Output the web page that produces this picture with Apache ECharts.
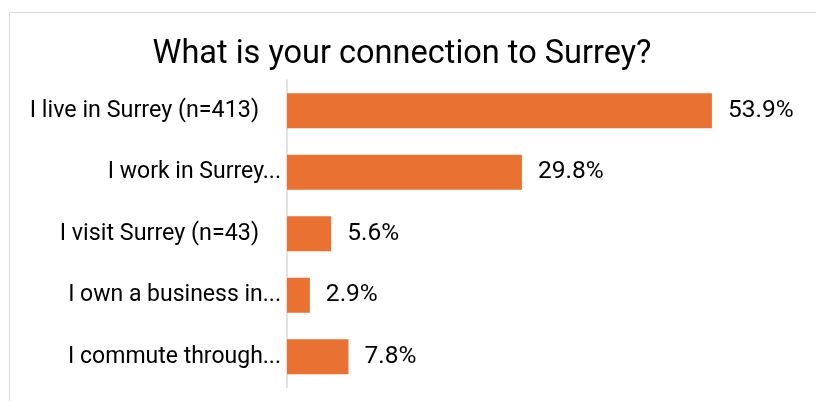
<!DOCTYPE html>
<html>
<head>
<meta charset="utf-8">
<script src="https://cdn.jsdelivr.net/npm/echarts@6/dist/echarts.min.js"></script>
<style>html,body{margin:0;padding:0;background:#fff;}#c{width:816px;height:401px;}</style>
</head>
<body>
<div id="c"></div>
<script>
var titleText = 'What is your connection to Surrey?';
var categories = ['I live in Surrey (n=413)', 'I work in Surrey...', 'I visit Surrey (n=43)', 'I own a business in...', 'I commute through...'];
var truncated = [false, true, false, true, true];
var values = [53.9, 29.8, 5.6, 2.9, 7.8];
var FONT = 'Roboto';

var chart = echarts.init(document.getElementById('c'), null, {renderer: 'canvas'});
chart.setOption({
  backgroundColor: '#ffffff',
  animation: false,
  title: {
    text: titleText,
    left: 397,
    textAlign: 'center',
    top: 33,
    textStyle: {fontFamily: FONT, fontSize: 32.5, fontWeight: 'normal', color: '#000000'}
  },
  graphic: [{
    type: 'rect', silent: true, z: -1,
    shape: {x: 9.5, y: 12.5, width: 1000, height: 600},
    style: {fill: 'none', stroke: '#d9d9d9', lineWidth: 1}
  }],
  grid: {left: 287, right: 56, top: 80, bottom: 13.5, containLabel: false},
  xAxis: {
    type: 'value', min: 0, max: 60,
    show: false
  },
  yAxis: {
    type: 'category', data: categories, inverse: true,
    axisLine: {show: true, lineStyle: {color: '#d9d9d9', width: 1.5}},
    axisTick: {show: false},
    axisLabel: {
      margin: 6,
      fontFamily: FONT, fontSize: 23, color: '#000000',
      formatter: function (v, i) {
        return truncated[i] ? '{t|' + v + '}' : '{f|' + v + '}';
      },
      rich: {
        t: {fontFamily: FONT, fontSize: 23, color: '#000000'},
        f: {fontFamily: FONT, fontSize: 23.3, color: '#000000', padding: [0, 22, 0, 0]}
      }
    }
  },
  series: [{
    type: 'bar', data: values, barWidth: 35,
    itemStyle: {color: '#E97132'},
    label: {
      show: true, position: 'right', distance: 16,
      formatter: '{c}%', fontFamily: FONT, fontSize: 24.5, color: '#000000'
    }
  }]
});
</script>
</body>
</html>
